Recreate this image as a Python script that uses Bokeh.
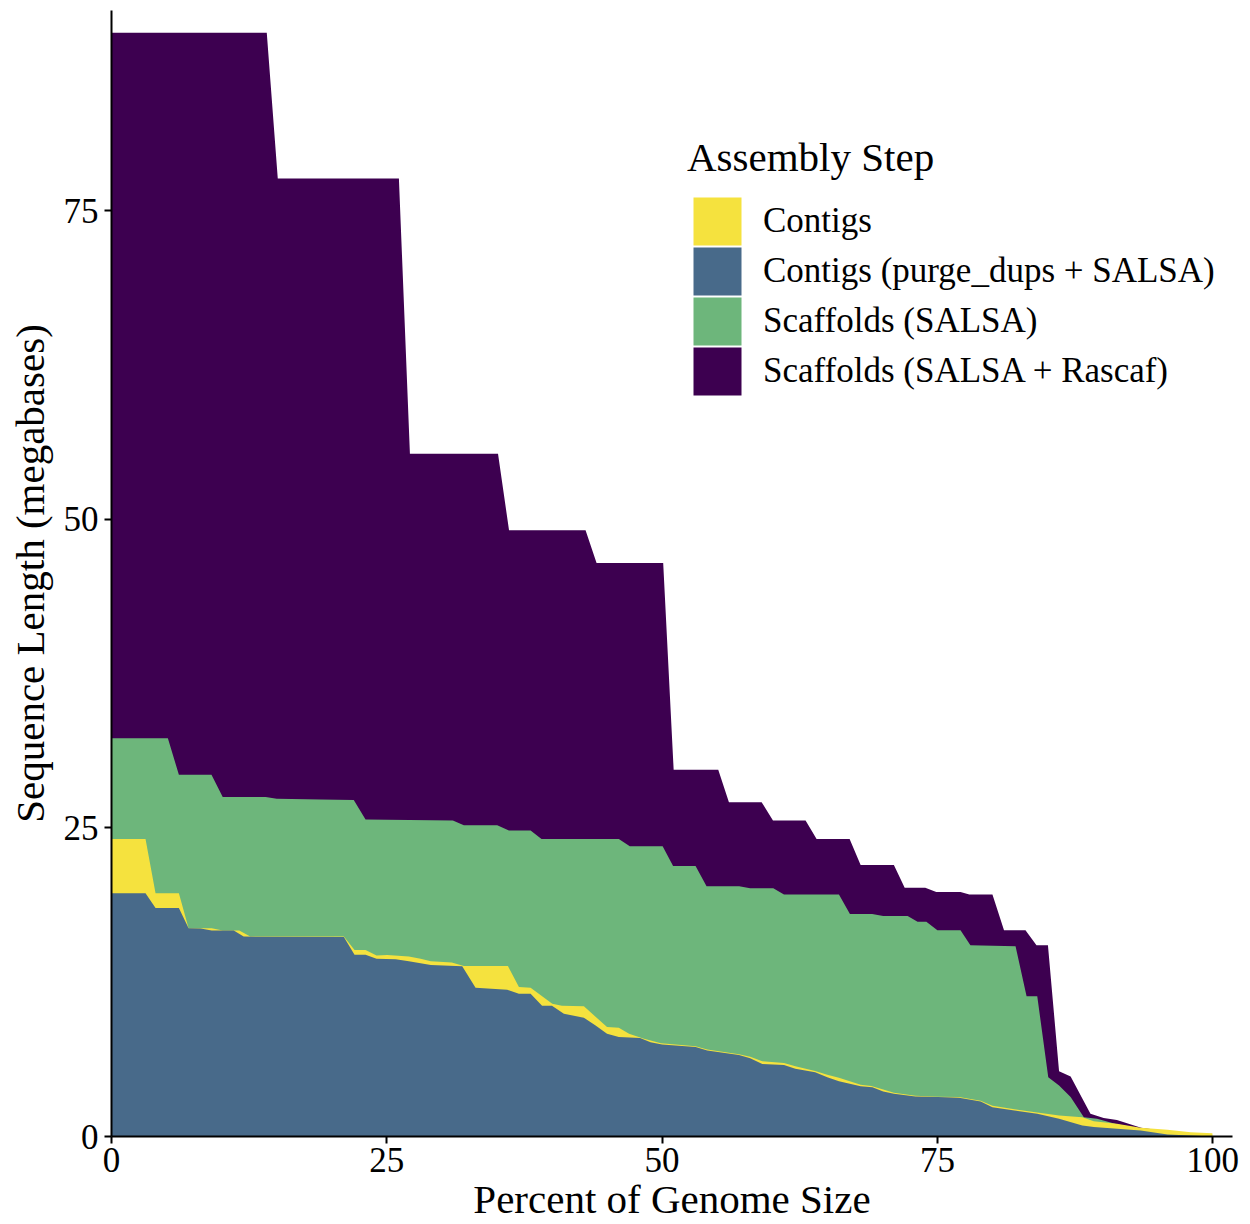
from bokeh.plotting import figure
from bokeh.models import Legend, LegendItem, Range1d, FixedTicker
from bokeh.embed import file_html
from bokeh.resources import INLINE

# ---- data ----
labels = ["Contigs", "Contigs (purge_dups + SALSA)", "Scaffolds (SALSA)", "Scaffolds (SALSA + Rascaf)"]
colors = ["#F5E23E", "#486A8A", "#6DB67B", "#3D0050"]

rascaf_x = [0, 14.1, 15.1, 26.1, 27.1, 35.1, 36.1, 43.05, 44.05, 50.1, 51.05, 55.1, 56.07, 59.04,
            60.07, 63.03, 64.03, 67.03, 68.03, 71.05, 72.03, 73.9, 74.9, 77.1, 77.9, 80.0, 81.05,
            83.0, 84.0, 85.04, 86.05, 87.1, 88.9, 90.1, 91.3, 93.5, 96.0, 100]
rascaf_y = [89.4, 89.4, 77.6, 77.6, 55.3, 55.3, 49.1, 49.1, 46.45, 46.45, 29.7, 29.7, 27.07, 27.07,
            25.6, 25.6, 24.1, 24.1, 22.0, 22.0, 20.15, 20.15, 19.8, 19.8, 19.6, 19.6, 16.7,
            16.7, 15.5, 15.5, 5.29, 4.86, 1.84, 1.49, 1.33, 0.7, 0.4, 0]

salsa_x = [0, 5.12, 6.12, 9.08, 10.1, 14.0, 15.0, 19.0, 22.0, 23.07, 31.0, 32.0, 35.03, 36.09,
           38.06, 39.05, 46.07, 47.07, 50.05, 51.0, 53.04, 54.04, 57.0, 58.0, 60.1, 61.07, 66.06,
           67.06, 69.08, 70.08, 72.3, 73.2, 74.0, 75.0, 77.1, 78.0, 82.1, 83.1, 84.07, 85.07,
           86.05, 87.1, 88.3, 89.5, 91.3, 93.46, 96.0, 100]
salsa_y = [32.25, 32.25, 29.3, 29.3, 27.5, 27.5, 27.35, 27.3, 27.25, 25.67, 25.6, 25.2, 25.2, 24.78,
           24.78, 24.1, 24.1, 23.5, 23.5, 21.9, 21.9, 20.27, 20.27, 20.1, 20.1, 19.6, 19.6,
           18.03, 18.03, 17.85, 17.85, 17.4, 17.4, 16.7, 16.7, 15.5, 15.4, 11.36, 11.36, 4.8,
           4.13, 3.19, 1.56, 1.43, 1.0, 0.65, 0.35, 0]

contigs_x = [0, 3.09, 4.0, 6.12, 7.0, 9.1, 10.1, 11.6, 12.6, 21.1, 22.07, 23.07, 24.07, 25.04, 27.0,
             28.07, 29.0, 30.9, 32.0, 36.0, 37.0, 38.06, 40.03, 40.9, 42.9, 45.0, 46.07, 47.0,
             48.36, 49.9, 53.04, 54.1, 56.98, 58.0, 59.1, 61.07, 62.1, 63.9, 65.0, 66.06, 68.03,
             69.0, 70.08, 71.05, 73.0, 75.05, 76.96, 78.93, 80.0, 82.0, 84.07, 86.05, 88.16,
             89.2, 91.3, 93.46, 95.9, 98.0, 99.97, 100]
contigs_y = [24.1, 24.1, 19.7, 19.7, 16.87, 16.87, 16.68, 16.68, 16.19, 16.2, 15.1, 15.1, 14.66, 14.7,
             14.57, 14.39, 14.2, 14.1, 13.8, 13.8, 12.1, 12.05, 10.75, 10.6, 10.55, 8.86, 8.8,
             8.32, 7.92, 7.56, 7.3, 7.05, 6.66, 6.45, 6.1, 5.95, 5.7, 5.3, 5.0, 4.75, 4.2, 4.1,
             3.8, 3.55, 3.3, 3.22, 3.2, 2.9, 2.5, 2.2, 1.95, 1.7, 1.56, 1.24, 1.03, 0.7, 0.54,
             0.35, 0.27, 0]

purged_x = [0, 3.09, 4.0, 6.12, 7.0, 8.1, 9.1, 11.1, 12.0, 21.1, 22.07, 23.07, 24.07, 25.8, 27.0,
            29.0, 31.85, 33.06, 35.94, 37.0, 38.06, 39.1, 40.0, 41.08, 42.9, 43.96, 45.0, 46.07,
            48.0, 48.95, 50.0, 53.04, 54.1, 56.98, 58.0, 59.1, 61.07, 62.1, 63.9, 65.0, 66.06,
            68.03, 69.1, 70.08, 71.05, 73.0, 75.05, 76.96, 78.93, 80.0, 82.0, 84.07, 86.05,
            88.16, 89.2, 93.46, 95.9, 98.0, 100]
purged_y = [19.7, 19.7, 18.5, 18.5, 16.87, 16.85, 16.68, 16.68, 16.19, 16.15, 14.72, 14.72, 14.39,
            14.35, 14.2, 13.9, 13.79, 12.05, 11.88, 11.56, 11.56, 10.6, 10.6, 9.94, 9.61, 8.99,
            8.32, 8.05, 7.97, 7.64, 7.45, 7.24, 6.96, 6.61, 6.34, 5.88, 5.8, 5.48, 5.2, 4.8,
            4.48, 4.07, 3.99, 3.64, 3.46, 3.24, 3.19, 3.13, 2.83, 2.37, 2.1, 1.84, 1.43, 0.89,
            0.76, 0.49, 0.16, 0.08, 0]

x_ticks = [0, 25, 50, 75, 100]
y_ticks = [0, 25, 50, 75]
legend_title = "Assembly Step"

FONT = "Liberation Serif"

p = figure(width=1250, height=1224, output_backend="svg", toolbar_location=None,
           x_range=Range1d(0, 101.8), y_range=Range1d(0, 91.2),
           min_border_left=111, min_border_right=18, min_border_top=10, min_border_bottom=88)
p.outline_line_color = None
p.grid.visible = False
p.background_fill_color = "white"

r_ras = p.varea(x=rascaf_x, y1=0, y2=rascaf_y, fill_color=colors[3])
r_sal = p.varea(x=salsa_x, y1=0, y2=salsa_y, fill_color=colors[2])
r_con = p.varea(x=contigs_x, y1=0, y2=contigs_y, fill_color=colors[0])
r_pur = p.varea(x=purged_x, y1=0, y2=purged_y, fill_color=colors[1])

for ax in (p.xaxis[0], p.yaxis[0]):
    ax.axis_line_width = 2
    ax.axis_line_color = "black"
    ax.major_tick_line_width = 2
    ax.major_tick_line_color = "black"
    ax.major_tick_in = 0
    ax.major_tick_out = 7
    ax.minor_tick_line_color = None
    ax.major_label_text_font = FONT
    ax.major_label_text_font_size = "35px"
    ax.major_label_text_color = "black"
    ax.axis_label_text_font = FONT
    ax.axis_label_text_font_size = "41px"
    ax.axis_label_text_font_style = "normal"
    ax.axis_label_text_color = "black"

p.xaxis.ticker = FixedTicker(ticks=x_ticks)
p.yaxis.ticker = FixedTicker(ticks=y_ticks)
p.xaxis.axis_label = "Percent of Genome Size"
p.yaxis.axis_label = "Sequence Length (megabases)"
p.xaxis.major_label_standoff = 4
p.yaxis.major_label_standoff = 6
p.xaxis.axis_label_standoff = 1
p.yaxis.axis_label_standoff = 8

# one legend per entry so the swatches sit 50 px apart like the reference
renderers = [r_con, r_pur, r_sal, r_ras]
for i, (lab, rend) in enumerate(zip(labels, renderers)):
    lg = Legend(items=[LegendItem(label=lab, renderers=[rend])],
                location=(576, 885 - 50 * i))
    if i == 0:
        lg.title = legend_title
        lg.title_text_font = FONT
        lg.title_text_font_size = "41px"
        lg.title_text_font_style = "normal"
        lg.title_text_color = "black"
        lg.title_standoff = 10
    lg.label_text_font = FONT
    lg.label_text_font_size = "35px"
    lg.label_text_color = "black"
    lg.glyph_width = 60
    lg.glyph_height = 60
    lg.spacing = 0
    lg.label_standoff = 16
    lg.padding = 0
    lg.margin = 0
    lg.border_line_color = None
    lg.background_fill_alpha = 0
    p.add_layout(lg)

open("out.html", "w").write(file_html(p, INLINE))
